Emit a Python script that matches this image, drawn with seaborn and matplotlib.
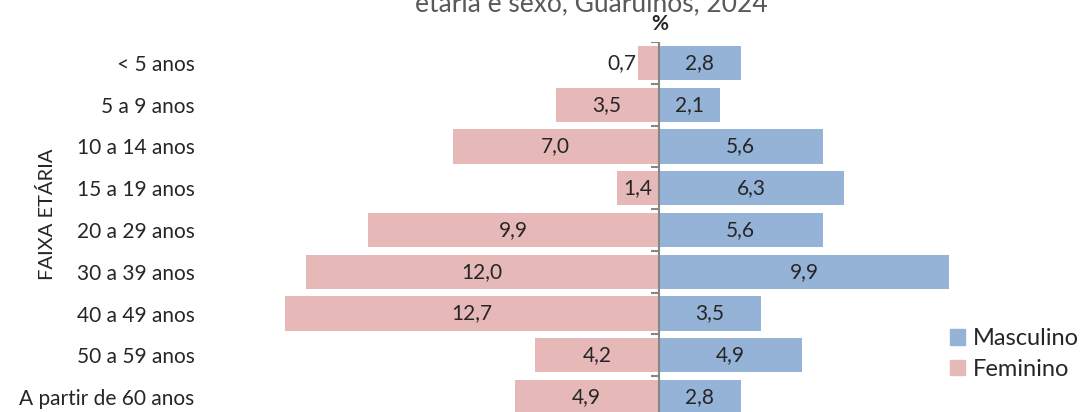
import numpy as np
import pandas as pd
import matplotlib
matplotlib.use("Agg")
import matplotlib.pyplot as plt
from matplotlib.patches import Patch
import seaborn as sns

faixas = ["< 5 anos", "5 a 9 anos", "10 a 14 anos", "15 a 19 anos", "20 a 29 anos",
          "30 a 39 anos", "40 a 49 anos", "50 a 59 anos", "A partir de 60 anos"]
masculino = [2.8, 2.1, 5.6, 6.3, 5.6, 9.9, 3.5, 4.9, 2.8]
feminino = [0.7, 3.5, 7.0, 1.4, 9.9, 12.0, 12.7, 4.2, 4.9]

cor_masc = "#95B3D7"
cor_fem = "#E6B9B8"

sns.set_style("white")
plt.rcParams['font.family'] = ['Lato', 'DejaVu Sans']

df = pd.DataFrame({"faixa": faixas, "masc": masculino, "fem": [-v for v in feminino]})

W, H = 1086, 412
fig = plt.figure(figsize=(W / 100, H / 100), dpi=100)
ax = fig.add_axes([203 / W, -6 / H, 911 / W, 376 / H])

sns.barplot(data=df, x="fem", y="faixa", color=cor_fem, width=0.82, ax=ax,
            saturation=1, linewidth=0, orient="h")
sns.barplot(data=df, x="masc", y="faixa", color=cor_masc, width=0.82, ax=ax,
            saturation=1, linewidth=0, orient="h")

ax.set_xlim(-15.5, 15.5)
ax.set_ylim(len(faixas) - 0.5, -0.5)
for s in ax.spines.values():
    s.set_visible(False)
ax.set_xticks([])
ax.set_xlabel("")
ax.set_ylabel("")
ax.tick_params(axis="y", length=0, pad=6, labelsize=15)

# eixo vertical no zero com marcas entre categorias
ax.axvline(0, color="#868686", lw=1.5)
ax.hlines(np.arange(len(faixas) + 1) - 0.5, -0.25, 0, color="#868686", lw=1.5)

# rótulos de dados
for i, (m, f) in enumerate(zip(masculino, feminino)):
    ax.text(m / 2, i, f"{m:.1f}".replace(".", ","), ha="center", va="center", fontsize=15)
    if f < 1:
        ax.text(-f - 0.05, i, f"{f:.1f}".replace(".", ","), ha="right", va="center", fontsize=15)
    else:
        ax.text(-f / 2, i, f"{f:.1f}".replace(".", ","), ha="center", va="center", fontsize=15)

# título (cortado no topo, como na referência)
fig.text(591 / W, 1 - 11 / H, "etária e sexo, Guarulhos, 2024", ha="center", va="baseline",
         fontsize=19, color="#595959")
fig.text(660 / W, 1 - 30 / H, "%", ha="center", va="baseline", fontsize=15, weight="bold")
fig.text(47 / W, 1 - 214 / H, "FAIXA ETÁRIA", rotation=90, ha="center", va="center", fontsize=14.5)

handles = [Patch(color=cor_masc), Patch(color=cor_fem)]
fig.legend(handles, ["Masculino", "Feminino"], loc="center left",
           bbox_to_anchor=(950 / W, 1 - 354 / H), frameon=False, fontsize=17,
           handlelength=0.64, handleheight=0.64, handletextpad=0.32,
           labelspacing=0.42, borderpad=0, borderaxespad=0)

fig.savefig("out.png", dpi=100)
